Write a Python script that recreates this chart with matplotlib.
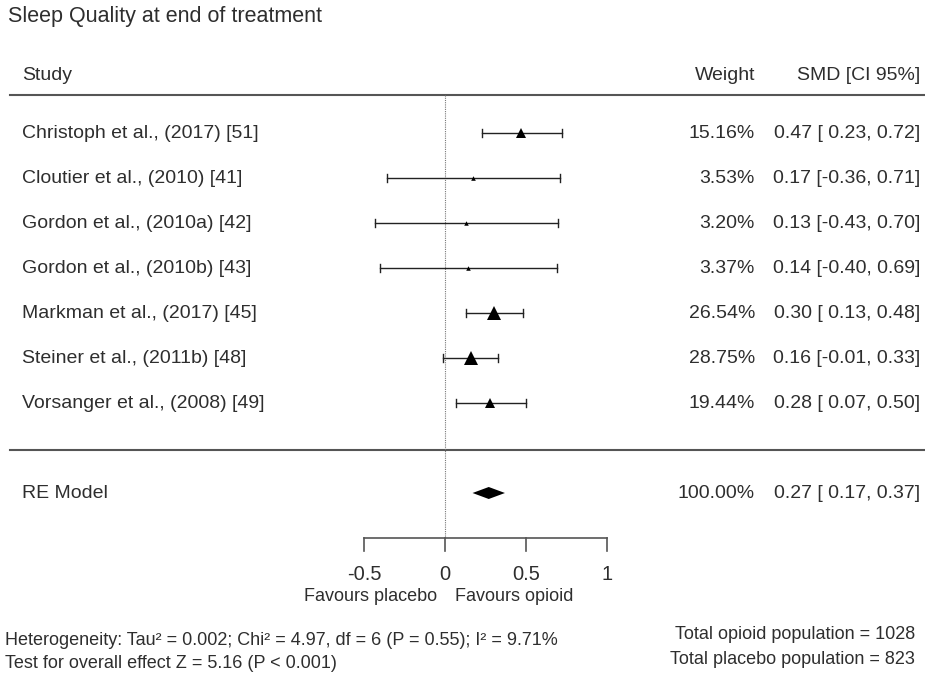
"""
Forest plot: Sleep Quality at end of treatment (SMD, random-effects model).
"""
import matplotlib.pyplot as plt

STUDIES = [
    "Christoph et al., (2017) [51]",
    "Cloutier et al., (2010) [41]",
    "Gordon et al., (2010a) [42]",
    "Gordon et al., (2010b) [43]",
    "Markman et al., (2017) [45]",
    "Steiner et al., (2011b) [48]",
    "Vorsanger et al., (2008) [49]",
]
WEIGHTS = [15.16, 3.53, 3.20, 3.37, 26.54, 28.75, 19.44]
SMD = [0.47, 0.17, 0.13, 0.14, 0.30, 0.16, 0.28]
CI_LO = [0.23, -0.36, -0.43, -0.40, 0.13, -0.01, 0.07]
CI_HI = [0.72, 0.71, 0.70, 0.69, 0.48, 0.33, 0.50]

RE_EST, RE_LO, RE_HI = 0.27, 0.17, 0.37
RE_WEIGHT = 100.00

XTICKS = [-0.5, 0, 0.5, 1]
XTICK_LABELS = ["-0.5", "0", "0.5", "1"]

HETERO = "Heterogeneity: Tau\u00b2 = 0.002; Chi\u00b2 = 4.97, df = 6 (P = 0.55); I\u00b2 = 9.71%"
OVERALL = "Test for overall effect Z = 5.16 (P < 0.001)"
N_OPIOID = 1028
N_PLACEBO = 823

W, H = 925, 678
X0 = 445          # pixel of SMD = 0
SCALE = 162       # pixels per SMD unit
ROW0, ROW_STEP = 133, 45
RE_Y = 493
TXT = "#2e2e2e"
LINE = "#555555"
FS = 14           # table text size
FS_SMALL = 13     # footer text size

plt.rcParams["font.family"] = ["Liberation Sans", "DejaVu Sans"]


def ci_text(est, lo, hi):
    lo_s = f" {lo:.2f}" if lo >= 0 else f"{lo:.2f}"
    return f"{est:.2f} [{lo_s}, {hi:.2f}]"


def main():
    fig = plt.figure(figsize=(W / 100, H / 100), dpi=100)
    ax = fig.add_axes([0, 0, 1, 1])
    ax.set_xlim(-X0 / SCALE, (W - X0) / SCALE)
    ax.set_ylim(H, 0)
    ax.axis("off")

    px = 1 / SCALE  # one pixel in data units (x)
    xl, xr = -435 * px, 480 * px
    x_study, x_wt, x_ci = -423 * px, 310 * px, 475 * px

    def row_text(x, y, s, ha="left", fs=FS):
        # baseline placement keeps all columns on one line
        ax.text(x, y + 0.36 * fs, s, fontsize=fs, color=TXT, va="baseline", ha=ha)

    # title and headers
    row_text(-437 * px, 16, "Sleep Quality at end of treatment", fs=15.5)
    row_text(x_study, 75, "Study")
    row_text(x_wt, 75, "Weight", ha="right")
    row_text(x_ci, 75, "SMD [CI 95%]", ha="right")
    ax.plot([xl, xr], [95, 95], color=LINE, lw=1.5)
    ax.plot([xl, xr], [450, 450], color=LINE, lw=1.5)

    # null line
    ax.plot([0, 0], [95, 538], color="#777777", lw=0.8, ls=(0, (1, 1)))

    # studies
    for i, name in enumerate(STUDIES):
        y = ROW0 + ROW_STEP * i
        ax.plot([CI_LO[i], CI_HI[i]], [y, y], color="#222222", lw=1)
        for end in (CI_LO[i], CI_HI[i]):
            ax.plot([end, end], [y - 4, y + 4], color="#222222", lw=1)
        size_px = 3.2 + 0.40 * WEIGHTS[i]
        ax.plot(SMD[i], y, marker="^", color="black", ms=size_px * 0.72, mew=0)
        row_text(x_study, y, name)
        row_text(x_wt, y, f"{WEIGHTS[i]:.2f}%", ha="right")
        row_text(x_ci, y, ci_text(SMD[i], CI_LO[i], CI_HI[i]), ha="right")

    # pooled estimate
    ax.fill([RE_LO, RE_EST, RE_HI, RE_EST], [RE_Y, RE_Y - 6, RE_Y, RE_Y + 6],
            color="black", lw=0)
    row_text(x_study, RE_Y, "RE Model")
    row_text(x_wt, RE_Y, f"{RE_WEIGHT:.2f}%", ha="right")
    row_text(x_ci, RE_Y, ci_text(RE_EST, RE_LO, RE_HI), ha="right")

    # x axis
    ax.plot([XTICKS[0], XTICKS[-1]], [538, 538], color=LINE, lw=1.2)
    for t, lab in zip(XTICKS, XTICK_LABELS):
        ax.plot([t, t], [538, 551], color=LINE, lw=1.2)
        row_text(t, 575, lab, ha="center", fs=14.5)
    row_text(-8 * px, 596, "Favours placebo", ha="right", fs=FS_SMALL)
    row_text(10 * px, 596, "Favours opioid", fs=FS_SMALL)

    # footer
    row_text(-440 * px, 640, HETERO, fs=FS_SMALL)
    row_text(-440 * px, 663, OVERALL, fs=FS_SMALL)
    row_text(470 * px, 634, f"Total opioid population = {N_OPIOID}", ha="right", fs=FS_SMALL)
    row_text(470 * px, 659, f"Total placebo population = {N_PLACEBO}", ha="right", fs=FS_SMALL)

    fig.savefig("out.png", dpi=100, facecolor="white")


if __name__ == "__main__":
    main()
